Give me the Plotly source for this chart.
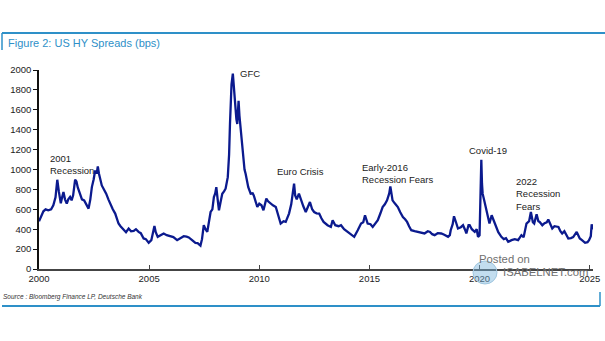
import plotly.graph_objects as go

# Decimal-year positions and HY spread values (bps)
years = [
    2000.00, 2000.10, 2000.20, 2000.30, 2000.42, 2000.55, 2000.65, 2000.75, 2000.83, 2000.90,
    2000.99, 2001.05, 2001.11, 2001.18, 2001.26, 2001.33, 2001.41, 2001.48, 2001.55, 2001.64,
    2001.70, 2001.76, 2001.87, 2001.95, 2002.05, 2002.15, 2002.25, 2002.33, 2002.40, 2002.48,
    2002.55, 2002.62, 2002.67, 2002.72, 2002.78, 2002.85, 2002.93, 2003.00, 2003.05, 2003.15,
    2003.23, 2003.35, 2003.46, 2003.55, 2003.61, 2003.70, 2003.84, 2003.95, 2004.07, 2004.18,
    2004.30, 2004.40, 2004.52, 2004.62, 2004.75, 2004.85, 2004.98, 2005.10, 2005.24, 2005.30,
    2005.39, 2005.50, 2005.66, 2005.80, 2005.97, 2006.10, 2006.27, 2006.40, 2006.57, 2006.70,
    2006.80, 2006.95, 2007.10, 2007.20, 2007.33, 2007.40, 2007.48, 2007.56, 2007.64, 2007.72,
    2007.79, 2007.87, 2007.94, 2008.00, 2008.05, 2008.11, 2008.17, 2008.25, 2008.32, 2008.40,
    2008.47, 2008.57, 2008.63, 2008.67, 2008.72, 2008.74, 2008.80, 2008.85, 2008.88, 2008.93,
    2008.96, 2009.00, 2009.06, 2009.10, 2009.14, 2009.18, 2009.23, 2009.28, 2009.33, 2009.38,
    2009.45, 2009.50, 2009.61, 2009.70, 2009.75, 2009.84, 2009.91, 2010.00, 2010.10, 2010.19,
    2010.25, 2010.32, 2010.40, 2010.52, 2010.62, 2010.75, 2010.85, 2010.97, 2011.10, 2011.20,
    2011.35, 2011.45, 2011.50, 2011.58, 2011.63, 2011.70, 2011.80, 2011.89, 2012.00, 2012.11,
    2012.20, 2012.30, 2012.40, 2012.49, 2012.60, 2012.72, 2012.82, 2012.92, 2013.10, 2013.25,
    2013.33, 2013.45, 2013.60, 2013.71, 2013.85, 2014.01, 2014.15, 2014.31, 2014.47, 2014.62,
    2014.72, 2014.80, 2014.92, 2015.05, 2015.15, 2015.28, 2015.38, 2015.50, 2015.60, 2015.70,
    2015.80, 2015.90, 2015.95, 2016.00, 2016.05, 2016.15, 2016.29, 2016.40, 2016.52, 2016.62,
    2016.71, 2016.80, 2016.90, 2017.05, 2017.20, 2017.35, 2017.50, 2017.65, 2017.75, 2017.85,
    2017.96, 2018.10, 2018.26, 2018.40, 2018.57, 2018.65, 2018.69, 2018.78, 2018.84, 2018.93,
    2019.02, 2019.15, 2019.25, 2019.35, 2019.40, 2019.50, 2019.55, 2019.65, 2019.78, 2019.87,
    2019.93, 2020.00, 2020.03, 2020.08, 2020.11, 2020.14, 2020.21, 2020.30, 2020.35, 2020.45,
    2020.55, 2020.65, 2020.75, 2020.85, 2020.99, 2021.10, 2021.20, 2021.30, 2021.45, 2021.60,
    2021.75, 2021.90, 2022.00, 2022.13, 2022.25, 2022.33, 2022.42, 2022.48, 2022.59, 2022.67,
    2022.73, 2022.85, 2022.95, 2023.05, 2023.12, 2023.20, 2023.30, 2023.40, 2023.58, 2023.67,
    2023.75, 2023.85, 2023.95, 2024.03, 2024.15, 2024.25, 2024.41, 2024.48, 2024.55, 2024.65,
    2024.79, 2024.90, 2024.97, 2025.05, 2025.09, 2025.12,
]
spreads = [
    480, 540, 580, 600, 590, 600, 640, 720, 897, 780,
    660, 720, 773, 700, 657, 700, 723, 690, 740, 897,
    880, 820, 757, 700, 690, 640, 607, 700, 823, 900,
    990, 960, 1030, 960, 890, 840, 807, 780, 757, 700,
    657, 600, 557, 500, 457, 430, 390, 370, 407, 380,
    383, 400, 373, 360, 307, 300, 263, 290, 433, 370,
    323, 340, 357, 340, 330, 320, 290, 310, 330, 325,
    317, 290, 263, 260, 235, 300, 440, 400, 373, 480,
    573, 600, 723, 760, 823, 700, 590, 680, 757, 780,
    807, 923, 1150, 1457, 1700, 1857, 1963, 1800, 1690, 1550,
    1507, 1457, 1690, 1540, 1450, 1323, 1200, 1123, 1000, 957,
    870, 823, 757, 760, 740, 680, 623, 657, 640, 590,
    650, 707, 680, 657, 640, 623, 540, 457, 480, 473,
    557, 650, 730, 857, 740, 700, 757, 690, 630, 573,
    620, 673, 600, 573, 560, 557, 510, 473, 440, 423,
    490, 440, 430, 440, 400, 373, 350, 323, 390, 457,
    470, 540, 457, 450, 423, 460, 490, 560, 623, 650,
    690, 760, 830, 760, 690, 660, 623, 570, 523, 500,
    473, 430, 390, 380, 373, 370, 357, 380, 373, 350,
    340, 360, 357, 345, 323, 340, 390, 450, 530, 470,
    407, 420, 440, 390, 357, 440, 440, 400, 373, 400,
    323, 340, 557, 1097, 860, 757, 690, 600, 523, 457,
    540, 480, 423, 370, 323, 300, 310, 273, 290, 300,
    290, 340, 320, 457, 480, 573, 470, 457, 550, 480,
    473, 440, 460, 470, 497, 450, 407, 430, 423, 380,
    357, 380, 330, 307, 310, 320, 373, 330, 307, 290,
    263, 270, 290, 330, 450, 397,
]

x_ticks = [2000, 2005, 2010, 2015, 2020, 2025]
y_ticks = [0, 200, 400, 600, 800, 1000, 1200, 1400, 1600, 1800, 2000]

event_labels = ["2001<br>Recession", "GFC", "Euro Crisis", "Early-2016<br>Recession Fears",
                "Covid-19", "2022<br>Recession<br>Fears"]
event_x = [2000.41, 2009.03, 2010.71, 2014.57, 2019.41, 2021.55]
event_y = [1055, 1960, 980, 960, 1190, 757]

FONT = "Liberation Sans, Arial, sans-serif"
BLUE = "#2e90c8"

L, R, T, B = 39, 12, 70, 72
PW = 605 - L - R
PH = 341 - T - B


def px(x):
    return (x - L) / PW


def py(y):
    return (341 - B - y) / PH


fig = go.Figure()
fig.add_trace(go.Scatter(
    x=years, y=spreads, mode="lines",
    line=dict(color="#0b1a8e", width=2.3),
    hoverinfo="skip", showlegend=False,
))

for lbl, ex, ey in zip(event_labels, event_x, event_y):
    fig.add_annotation(x=ex, y=ey, xref="x", yref="y", text=lbl, showarrow=False,
                       xanchor="left", yanchor="middle", align="left",
                       font=dict(family=FONT, size=9.5, color="#222222"))

fig.update_xaxes(
    range=[2000, 2025.15], tickvals=x_ticks, ticktext=[str(t) for t in x_ticks],
    showgrid=False, zeroline=False, showline=True, linecolor="#444444", linewidth=2,
    ticks="inside", ticklen=4, tickcolor="#444444",
    tickfont=dict(family=FONT, size=9.5, color="#222222"),
)
fig.update_yaxes(
    range=[0, 2000], tickvals=y_ticks, ticktext=[str(t) for t in y_ticks],
    showgrid=False, zeroline=False, showline=True, linecolor="#111111", linewidth=1.5,
    ticks="outside", ticklen=4, tickcolor="#111111",
    tickfont=dict(family=FONT, size=9.5, color="#222222"),
)

# Frame lines and title / source text
fig.add_shape(type="line", xref="paper", yref="paper", x0=px(2), x1=px(605), y0=py(33), y1=py(33),
              line=dict(color=BLUE, width=2))
fig.add_shape(type="line", xref="paper", yref="paper", x0=px(2), x1=px(2), y0=py(33), y1=py(50),
              line=dict(color=BLUE, width=1.5))
fig.add_shape(type="line", xref="paper", yref="paper", x0=px(2), x1=px(600), y0=py(306), y1=py(306),
              line=dict(color=BLUE, width=2))
fig.add_shape(type="line", xref="paper", yref="paper", x0=px(600), x1=px(600), y0=py(306), y1=py(292),
              line=dict(color=BLUE, width=1.5))

fig.add_annotation(xref="paper", yref="paper", x=px(6), y=py(43), xanchor="left", yanchor="middle",
                   text="Figure 2: US HY Spreads (bps)", showarrow=False,
                   font=dict(family=FONT, size=11, color=BLUE))
fig.add_annotation(xref="paper", yref="paper", x=px(1), y=py(297), xanchor="left", yanchor="middle",
                   text="<i>Source : Bloomberg Finance LP, Deutsche Bank</i>", showarrow=False,
                   font=dict(family=FONT, size=6.5, color="#333333"))

# Watermark
fig.add_shape(type="circle", xref="paper", yref="paper", x0=px(473), x1=px(497), y0=py(284), y1=py(261),
              line=dict(color="#9fc6df", width=1), fillcolor="rgba(120,180,220,0.45)")
fig.add_annotation(xref="paper", yref="paper", x=px(504), y=py(259), xanchor="center", yanchor="middle",
                   text="Posted on", showarrow=False,
                   font=dict(family=FONT, size=11.3, color="#707070"))
fig.add_annotation(xref="paper", yref="paper", x=px(545), y=py(272), xanchor="center", yanchor="middle",
                   text="ISABELNET.com", showarrow=False,
                   font=dict(family=FONT, size=11.3, color="#707070"))

fig.update_layout(
    width=605, height=341,
    margin=dict(l=L, r=R, t=T, b=B, autoexpand=False),
    paper_bgcolor="white", plot_bgcolor="white",
    showlegend=False,
)

fig.write_html("out.html")
